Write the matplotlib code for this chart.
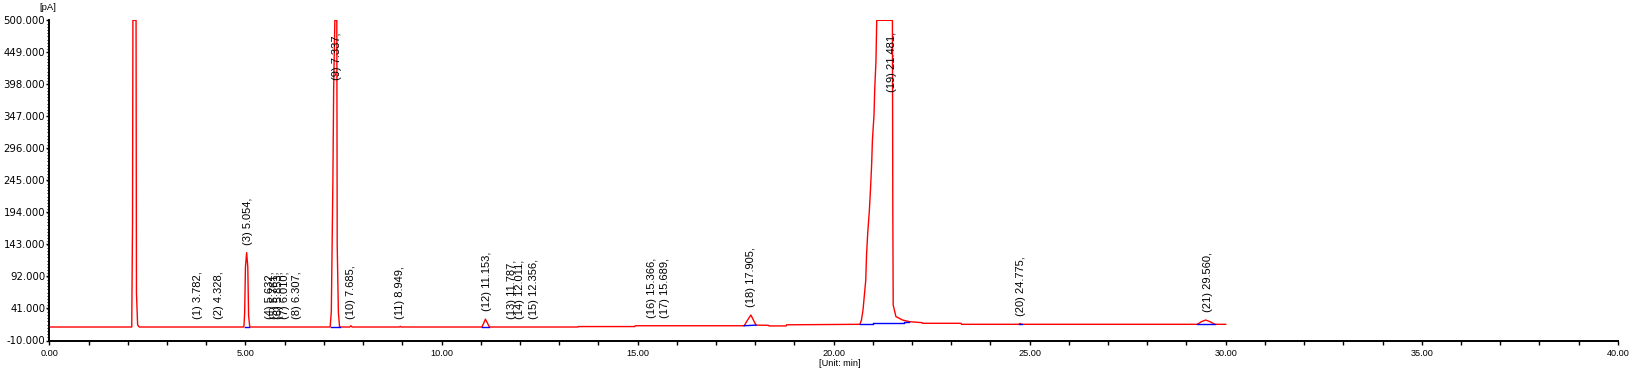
import matplotlib
matplotlib.use("Agg")
import matplotlib.pyplot as plt
from matplotlib.ticker import MultipleLocator, FixedLocator, FormatStrFormatter

# ---------------------------
# DATA
# ---------------------------
time_min = [0.00, 2.10, 2.12, 2.13, 2.15, 2.21, 2.22, 2.25, 2.29,
            4.96, 4.98, 5.00, 5.03, 5.06, 5.08, 5.11,
            7.16, 7.19, 7.23, 7.25, 7.28, 7.33, 7.34, 7.37, 7.40,
            7.66, 7.69, 7.72, 8.93, 8.95, 8.97,
            11.03, 11.08, 11.12, 11.17, 11.22,
            13.48, 13.49, 14.93, 14.94,
            17.72, 17.80, 17.89, 17.96, 18.02, 18.34, 18.35, 18.79, 18.80,
            20.67, 20.71, 20.75, 20.79, 20.82, 20.84, 20.87, 20.91, 20.94,
            20.97, 20.99, 21.03, 21.05, 21.08, 21.10, 21.50, 21.51, 21.52,
            21.59, 21.76, 21.93, 22.26, 22.27, 23.25, 23.26,
            24.72, 24.76, 24.80,
            29.28, 29.38, 29.49, 29.60, 29.72, 30.00]
signal_pa = [11.5, 11.5, 180, 500, 500, 500, 66, 15, 11.5,
             11.5, 34, 107, 130, 107, 30, 11.5,
             11.5, 36, 245, 392, 500, 500, 142, 35, 11.5,
             11.5, 13.5, 11.5, 11.5, 12.5, 11.5,
             11.5, 18, 24, 18, 11.5,
             11.5, 12.2, 12.2, 13.5,
             13.5, 22, 30.6, 22, 14.5, 14.2, 13.2, 13.2, 15.0,
             15.8, 22.6, 38.6, 65.6, 86, 126, 161, 195, 230,
             270, 309, 349, 392, 434, 500, 500, 200, 46.5,
             28, 22.6, 20, 18.4, 17.4, 17.4, 15.8,
             15.8, 17.0, 15.8,
             15.8, 20, 22.6, 20, 15.8, 15.8]

# integration baselines (blue)
base_start = [4.98, 7.17, 11.03, 17.72, 20.68, 21.00, 21.79, 24.72, 29.28]
base_end = [5.09, 7.40, 11.22, 18.02, 21.00, 21.79, 21.93, 24.80, 29.72]
base_y0 = [11.5, 11.5, 11.5, 13.5, 15.8, 17.4, 20.0, 15.8, 15.8]
base_y1 = [11.5, 11.5, 11.5, 14.5, 15.8, 17.4, 20.0, 15.8, 15.8]

# peak labels
peak_no = list(range(1, 22))
peak_rt = [3.782, 4.328, 5.054, 5.632, 5.761, 5.853, 6.010, 6.307, 7.337, 7.685,
           8.949, 11.153, 11.787, 12.011, 12.356, 15.366, 15.689, 17.905,
           21.481, 24.775, 29.560]
peak_top = [11.5, 11.5, 130, 11.5, 11.5, 11.5, 11.5, 11.5, 481, 11.5,
            11.5, 24, 11.5, 12.2, 12.2, 13.5, 13.5, 30.6,
            481, 15.8, 22.6]
off_scale = [9, 19]

# ---------------------------
# PLOT
# ---------------------------
fig = plt.figure(figsize=(16.36, 3.75), dpi=100)
ax = fig.add_axes([49.4 / 1636, 34.5 / 375, 1568.4 / 1636, 320.2 / 375])

ax.plot(time_min, signal_pa, color="#ff0000", lw=1.0, zorder=2)
for x0, x1, y0, y1 in zip(base_start, base_end, base_y0, base_y1):
    ax.plot([x0, x1], [y0, y1], color="#0000ff", lw=1.0, zorder=3)

for n, rt, top in zip(peak_no, peak_rt, peak_top):
    txt = "(%d) %.3f," % (n, rt)
    if n in off_scale:
        ax.text(rt, top, txt, rotation=90, ha="center", va="top",
                fontsize=8, family="Liberation Sans", zorder=4)
    else:
        ax.annotate(txt, (rt, top), xytext=(0, 5.8), textcoords="offset points",
                    rotation=90, ha="center", va="bottom",
                    fontsize=8, family="Liberation Sans", zorder=4)

ax.set_xlim(0, 40)
ax.set_ylim(-10, 500)

ax.xaxis.set_major_locator(MultipleLocator(5))
ax.xaxis.set_minor_locator(MultipleLocator(1))
ax.xaxis.set_major_formatter(FormatStrFormatter("%.2f"))
ax.yaxis.set_major_locator(FixedLocator([-10 + 51 * k for k in range(11)]))
ax.yaxis.set_minor_locator(MultipleLocator(5.1))
ax.yaxis.set_major_formatter(FormatStrFormatter("%.3f"))

ax.tick_params(axis="x", which="both", direction="out", length=3, width=1,
               pad=3, labelsize=6.6)
ax.tick_params(axis="y", which="major", direction="out", length=2.2, width=1,
               pad=0.8, labelsize=7.3)
ax.tick_params(axis="y", which="minor", direction="out", length=1.3, width=0.8)
for lab in ax.get_xticklabels():
    lab.set_family("Liberation Sans")

for s in ["top", "right"]:
    ax.spines[s].set_visible(False)
for s in ["left", "bottom"]:
    ax.spines[s].set_linewidth(1.4)

fig.text(48 / 1636, 1 - 8 / 375, "[pA]", ha="center", va="center",
         fontsize=6.8, family="Liberation Sans")
fig.text(840 / 1636, 1 - 364 / 375, "[Unit: min]", ha="center", va="center",
         fontsize=6.6, family="Liberation Sans")

fig.savefig("out.png", dpi=100)
